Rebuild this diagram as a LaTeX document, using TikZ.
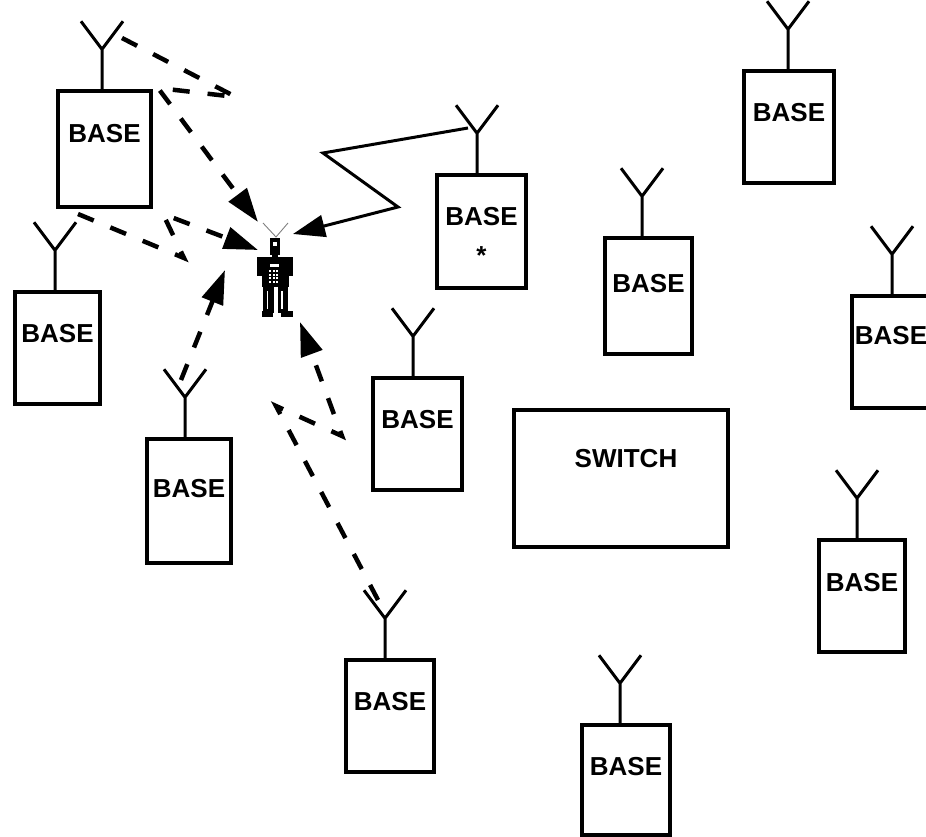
\documentclass[tikz,border=0pt]{standalone}
\usepackage{fontspec}
\setmainfont{Liberation Sans}
\usetikzlibrary{arrows.meta,positioning}

\tikzset{
	station/.style={draw, rectangle, line width=3.5pt, inner sep=0pt},
	tag/.style={font=\fontsize{26}{26}\selectfont\bfseries},
	aerial/.style={line width=3pt},
	radio/.style={line width=4.5pt, dash pattern=on 17pt off 18pt, -{Triangle[length=34pt,width=22pt]}},
	direct/.style={line width=3pt, -{Triangle[length=32pt,width=22pt]}},
}

\begin{document}
\begin{tikzpicture}[x=1pt, y=-1pt]
	\clip (0,0) rectangle (926,836);
	
	% base stations: name / centre x / top / width / height / aerial shift / label drop
	\foreach \n/\cx/\yt/\w/\h/\ax/\ty in {
		1/104.5/91/93/116/-2.5/44,
		2/57.5/292/85/112/-2.5/43,
		3/189/439/84/124/-4/51,
		4/417.5/378/89/112/-4.5/43,
		5/481.5/175/89/113/-4.5/43,
		6/648.5/238/87/116/-6.5/47,
		7/789/71/90/112/-1/43,
		8/891/296/78/112/1/41,
		10/862/540/86/112/-5/44,
		11/390/660/88/112/-5/43,
		12/626/725/88/110/-6/43}
	{
		\node [station, minimum width=\w pt, minimum height=\h pt] (b\n) at (\cx,{\yt+\h/2}) {};
		\node [tag] (t\n) at ([yshift=-\ty pt]b\n.north) {BASE};
		\draw [aerial] ([xshift=\ax pt]b\n.north) -- ++(0,-40) coordinate (j\n)
			-- ++(-21,-28) coordinate (l\n) (j\n) -- ++(21,-28) coordinate (r\n);
	}
	\node [tag] (star) at ([yshift=-82pt]b5.north) {*};
	
	% switch
	\node [station, minimum width=214pt, minimum height=137pt] (sw) at (621,478.5) {};
	\node [tag] (swt) at ([xshift=5pt, yshift=-50pt]sw.north) {SWITCH};
	
	% mobile user
	\begin{scope}
		\draw [gray, line width=0.9pt] (263,223) -- (276,237) -- (288,223);
		\fill (270,238) rectangle (280,255);
		\fill [white] (273,242) rectangle (277,246);
		\fill (272,254) rectangle (278,258);
		\fill (257,257) rectangle (293,265);
		\fill (262,257) rectangle (289,287);
		\fill (257,257) rectangle (263,276);
		\fill (288,257) rectangle (293,276);
		\fill [white] (270,264) rectangle (279,266.5);
		\foreach \c in {0,1,2}
			\foreach \r in {0,1,2,3}
				\fill [white] ({269+3.6*\c},{270+3.6*\r}) rectangle ++(2.2,2.2);
		\fill (263,286) rectangle (274,313);
		\fill (278,286) rectangle (288,313);
		\fill [white] (266.5,291) rectangle (268,309);
		\fill [white] (281,291) rectangle (282.5,309);
		\fill (262,311) rectangle (273,317);
		\fill (281,311) rectangle (293,317);
	\end{scope}
	\coordinate (user) at (276,270);
	
	% hops of the radio paths
	\coordinate (s1) at (122,38);
	\coordinate (h1) at (236,97);
	\coordinate (h2) at (158,88);
	\coordinate (e1) at (258,222);
	
	\coordinate (s2) at (78,214);
	\coordinate (h3) at (184,258);
	\coordinate (h4) at (163,214);
	\coordinate (e2) at (258,250);
	
	\coordinate (s3) at (181,380);
	\coordinate (e3) at (225,270);
	
	\coordinate (s4) at (468,128);
	\coordinate (h5) at (323,153);
	\coordinate (h6) at (398,207);
	\coordinate (e4) at (293,234);
	
	\coordinate (s5) at (378,600);
	\coordinate (h7) at (276,406);
	\coordinate (h8) at (342,436);
	\coordinate (e5) at (300,322);
	
	\draw [radio] (s1) -- (h1) -- (h2) -- (e1);
	\draw [radio] (s2) -- (h3) -- (h4) -- (e2);
	\draw [radio] (s3) -- (e3);
	\draw [direct] (s4) -- (h5) -- (h6) -- (e4);
	\draw [radio] (s5) -- (h7) -- (h8) -- (e5);
\end{tikzpicture}
\end{document}
